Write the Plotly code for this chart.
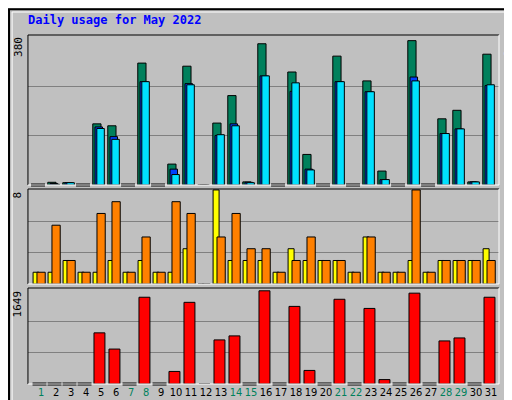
import plotly.graph_objects as go

days = list(range(1, 32))
hits = [0, 7, 6, 0, 158, 153, 0, 315, 0, 54, 307, 0, 160, 231, 8, 365, 0, 292, 79, 0,
        333, 0, 269, 36, 0, 373, 0, 171, 193, 8, 338]
files = [0, 4, 6, 0, 150, 125, 0, 267, 0, 41, 262, 0, 128, 158, 7, 282, 0, 242, 41, 0,
         267, 0, 241, 14, 0, 279, 0, 133, 145, 8, 257]
pages = [0, 2, 6, 0, 146, 118, 0, 267, 0, 27, 259, 0, 130, 153, 6, 282, 0, 264, 39, 0,
         267, 0, 241, 14, 0, 269, 0, 133, 145, 8, 259]
visits = [1, 1, 2, 1, 1, 2, 1, 2, 1, 1, 3, 0, 8, 2, 2, 2, 1, 3, 2, 2,
          2, 1, 4, 1, 1, 2, 1, 2, 2, 2, 3]
sites = [1, 5, 2, 1, 6, 7, 1, 4, 1, 7, 6, 0, 4, 6, 3, 3, 1, 2, 4, 2,
         2, 1, 4, 1, 1, 8, 1, 2, 2, 2, 2]
kbytes = [0, 0, 0, 0, 905, 618, 0, 1535, 0, 222, 1445, 0, 780, 851, 0, 1649, 0, 1373, 240, 0,
          1499, 0, 1337, 78, 0, 1607, 0, 762, 815, 0, 1535]
weekend = [1, 7, 8, 14, 15, 21, 22, 28, 29]
missing = [12]

max_hits, max_sites, max_kb = 380, 8, 1649

fig = go.Figure()

def add_bars(vals, color, offset, width, axis):
    fig.add_trace(go.Bar(x=days, y=vals, marker=dict(color=color, line=dict(color="black", width=1)),
                         offset=offset, width=width, xaxis="x", yaxis=axis))

def add_zero(vals, axis, shift):
    xs = [d + shift for d, v in zip(days, vals) if v == 0 and d not in missing]
    fig.add_trace(go.Scatter(x=xs, y=[0] * len(xs), mode="markers", xaxis="x", yaxis=axis, cliponaxis=False,
                             marker=dict(symbol="line-ew", size=10, line=dict(color="black", width=3))))

add_bars(hits, "#00805C", -0.55, 0.55, "y")
add_bars(files, "#0040FF", -0.40, 0.5, "y")
add_bars(pages, "#00E0FF", -0.28, 0.5, "y")
add_zero(hits, "y", -0.2)
add_bars(visits, "#FFFF00", -0.53, 0.4, "y2")
add_bars(sites, "#FF8000", -0.27, 0.55, "y2")
add_bars(kbytes, "#FF0000", -0.47, 0.73, "y3")
add_zero(kbytes, "y3", -0.1)

xd = [0.039, 0.959]
ticktext = ['<span style="color:#00805C">%d</span>' % d if d in weekend else str(d) for d in days]
fig.update_layout(
    width=512, height=400, margin=dict(l=0, r=0, t=0, b=0),
    paper_bgcolor="#C0C0C0", plot_bgcolor="#C0C0C0", showlegend=False, barmode="overlay",
    font=dict(family="DejaVu Sans Mono", size=11, color="black"),
    xaxis=dict(domain=xd, range=[0.13, 31.53], tickvals=days, ticktext=ticktext, anchor="y3",
               tickangle=0, showgrid=False, zeroline=False, ticks="",
               tickfont=dict(family="DejaVu Sans Condensed", size=11)),
    yaxis=dict(domain=[0.5575, 0.9325], range=[0, max_hits * 1.02], tickvals=[max_hits / 3, 2 * max_hits / 3],
               showticklabels=False, gridcolor="#808080", zeroline=False),
    yaxis2=dict(domain=[0.31, 0.5475], range=[0, max_sites * 1.01], tickvals=[max_sites / 3, 2 * max_sites / 3],
                showticklabels=False, gridcolor="#808080", zeroline=False),
    yaxis3=dict(domain=[0.06, 0.30], range=[0, max_kb * 1.03], tickvals=[max_kb / 3, 2 * max_kb / 3],
                showticklabels=False, gridcolor="#808080", zeroline=False),
)

# panel frames
for y0, y1 in [(0.5575, 0.9325), (0.31, 0.5475), (0.06, 0.30)]:
    fig.add_shape(type="line", xref="paper", yref="paper", x0=xd[0], x1=xd[1], y0=y1, y1=y1, line=dict(color="black", width=1))
    fig.add_shape(type="line", xref="paper", yref="paper", x0=xd[0], x1=xd[0], y0=y0, y1=y1, line=dict(color="black", width=1))
    fig.add_shape(type="line", xref="paper", yref="paper", x0=xd[0], x1=xd[1], y0=y0, y1=y0, line=dict(color="white", width=1))
    fig.add_shape(type="line", xref="paper", yref="paper", x0=xd[1], x1=xd[1], y0=y0, y1=y1, line=dict(color="white", width=1))
fig.add_shape(type="rect", xref="paper", yref="paper", x0=0.002, x1=0.998, y0=0.003, y1=0.997,
              line=dict(color="black", width=2))
fig.add_shape(type="rect", xref="paper", yref="paper", x0=0.008, x1=0.988, y0=0.015, y1=0.99,
              line=dict(color="white", width=1))

fig.add_annotation(text="<b>Daily usage for May 2022</b>", xref="paper", yref="paper", x=0.035, y=0.992,
                   xanchor="left", yanchor="top", showarrow=False, font=dict(color="#0000FF", size=12))
for txt, y in [(str(max_hits), 0.9325), (str(max_sites), 0.5475), (str(max_kb), 0.30)]:
    fig.add_annotation(text=txt, xref="paper", yref="paper", x=0.036, y=y, xanchor="right", yanchor="top",
                       textangle=-90, showarrow=False, font=dict(size=11))
fig.add_annotation(text='<span style="color:#00E0FF">Pages</span> / <span style="color:#0040FF">Files</span> / <span style="color:#00805C">Hits</span>',
                   xref="paper", yref="paper", x=0.962, y=0.9325, xanchor="left", yanchor="top",
                   textangle=90, showarrow=False, font=dict(size=11))
fig.add_annotation(text='<span style="color:#FF8000">Sites</span> / <span style="color:#FFFF00">Visits</span>',
                   xref="paper", yref="paper", x=0.962, y=0.5475, xanchor="left", yanchor="top",
                   textangle=90, showarrow=False, font=dict(size=11))
fig.add_annotation(text='<span style="color:#FF0000">kB F</span>',
                   xref="paper", yref="paper", x=0.962, y=0.06, xanchor="left", yanchor="bottom",
                   textangle=90, showarrow=False, font=dict(size=11))

fig.write_html("out.html")
